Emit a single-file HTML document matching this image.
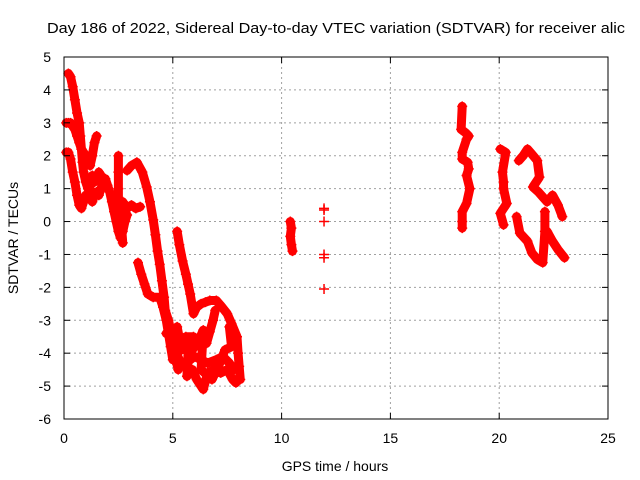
<!DOCTYPE html>
<html><head><meta charset="utf-8"><style>
body{margin:0;background:#fff;}
svg{display:block;font-family:"Liberation Sans",sans-serif;}
</style></head><body>
<svg id="chart" width="640" height="480" viewBox="0 0 640 480" xmlns="http://www.w3.org/2000/svg">
<rect width="640" height="480" fill="#fff"/>
<text x="47" y="33" font-size="15" textLength="578" lengthAdjust="spacingAndGlyphs" fill="#000">Day 186 of 2022, Sidereal Day-to-day VTEC variation (SDTVAR) for receiver alic</text>
<g id="grid"></g>
<g id="series"></g>
<g id="axes"></g>
<text x="335" y="471" font-size="14" text-anchor="middle">GPS time / hours</text>
<text transform="translate(18,238) rotate(-90)" font-size="14" text-anchor="middle">SDTVAR / TECUs</text>
</svg>
<script>
const xTicks=[0,5,10,15,20,25];
const yTicks=[-6,-5,-4,-3,-2,-1,0,1,2,3,4,5];
const trace1=[[0.2,4.5],[0.3,4.4],[0.4,4.1],[0.5,3.7],[0.6,3.3],[0.7,3.0],[0.75,2.6],[0.8,2.2],[0.85,1.8],[0.9,1.5],[1.0,1.2],[1.1,1.0],[1.2,1.0]];
const trace2=[[0.1,3.0],[0.2,3.0],[0.3,3.0],[0.4,2.9],[0.5,2.8],[0.6,2.6],[0.7,2.4],[0.8,2.2],[0.9,2.1],[1.0,2.0],[1.1,1.8],[1.2,1.7],[1.3,2.0],[1.4,2.4],[1.5,2.6]];
const trace3=[[0.1,2.1],[0.2,2.1],[0.3,1.9],[0.4,1.5],[0.5,1.2],[0.6,0.8],[0.7,0.5],[0.8,0.4],[0.9,0.6],[1.0,0.8],[1.1,0.8],[1.2,0.7],[1.3,0.6],[1.4,0.8],[1.5,0.9],[1.6,0.8],[1.7,1.0],[1.8,1.2],[1.9,1.3],[2.0,1.1],[2.1,0.9],[2.2,0.6],[2.3,0.3],[2.4,0.0],[2.5,-0.3],[2.6,-0.5],[2.7,-0.3],[2.8,0.0],[2.9,0.2]];
const trace4=[[1.3,1.4],[1.4,1.2],[1.5,1.3],[1.6,1.5],[1.7,1.4]];
const trace5=[[2.5,2.0],[2.5,1.5],[2.5,1.0],[2.5,0.6],[2.6,0.3],[2.65,-0.2],[2.7,-0.65]];
const trace6=[[2.5,0.55],[2.7,0.6],[2.9,0.4],[3.1,0.5],[3.3,0.4],[3.5,0.45]];
const trace7=[[2.9,1.55],[3.1,1.7],[3.35,1.8],[3.6,1.5],[3.8,1.05],[3.95,0.6],[4.1,0.05],[4.2,-0.4],[4.3,-0.9],[4.4,-1.3],[4.5,-1.8],[4.6,-2.3],[4.65,-2.7],[4.8,-3.0],[4.9,-3.3],[5.0,-3.7],[5.1,-4.1],[5.25,-4.5]];
const trace8=[[3.4,-1.25],[3.55,-1.6],[3.7,-1.9],[3.85,-2.2],[4.1,-2.3],[4.4,-2.3],[4.55,-2.6],[4.7,-3.0],[4.8,-3.4],[4.9,-3.8],[5.0,-4.2]];
const trace9=[[5.2,-0.3],[5.3,-0.7],[5.45,-1.2],[5.6,-1.6],[5.7,-1.9],[5.8,-2.2],[5.95,-2.8],[6.1,-2.6],[6.3,-2.5],[6.5,-2.45],[6.7,-2.4],[7.0,-2.4],[7.2,-2.55],[7.5,-2.8],[7.7,-3.1],[7.95,-3.5],[8.0,-4.0],[8.05,-4.4],[8.1,-4.8]];
const trace10=[[6.55,-3.7],[6.7,-3.35],[6.85,-3.0],[6.95,-2.7]];
const trace11=[[4.7,-3.4],[5.0,-3.5],[5.3,-3.6],[5.6,-3.5],[5.95,-3.5],[5.7,-4.0],[5.65,-4.7],[5.9,-4.5],[6.1,-4.8],[6.4,-5.1],[6.6,-4.6],[6.9,-4.5],[7.2,-4.6],[7.5,-4.5],[7.75,-4.8],[7.9,-4.9]];
const trace12=[[5.1,-3.9],[5.3,-4.2],[5.5,-4.4],[5.8,-4.2],[6.0,-4.1],[6.3,-4.2],[6.6,-4.3],[7.0,-4.2],[7.3,-4.1],[7.6,-4.3],[7.8,-4.5]];
const trace20=[[5.2,-3.2],[5.4,-3.9],[5.6,-3.7],[5.9,-3.9],[6.2,-3.6],[6.4,-3.3],[6.3,-4.5],[6.8,-4.8],[7.1,-4.4],[7.4,-3.9],[7.7,-3.8],[7.6,-3.2]];
const trace13=[[10.4,0.0],[10.45,-0.2],[10.4,-0.45],[10.45,-0.7],[10.5,-0.9]];
const trace14=[[11.95,0.4],[11.95,0.35],[11.95,0.0],[11.95,-1.0],[11.95,-1.1],[11.95,-2.05]];
const trace15=[[18.3,3.5],[18.25,2.8],[18.45,2.7],[18.6,2.6],[18.5,2.5],[18.3,2.1],[18.3,1.9],[18.55,1.8],[18.6,1.6],[18.5,1.4],[18.65,1.0],[18.5,0.55],[18.3,0.3],[18.3,0.0],[18.3,-0.2]];
const trace16=[[20.05,2.2],[20.3,2.1],[20.15,1.5],[20.2,1.2],[20.2,1.0],[20.35,0.55],[20.05,0.25],[20.2,-0.1]];
const trace17=[[20.9,1.85],[21.1,2.0],[21.3,2.2],[21.5,2.05],[21.75,1.85],[21.85,1.35],[21.55,1.05],[21.8,0.9],[22.0,0.75],[22.2,0.6],[22.45,0.8],[22.7,0.5],[22.9,0.15]];
const trace18=[[20.8,0.15],[20.95,-0.35],[21.3,-0.6],[21.5,-0.95],[21.75,-1.15],[22.0,-1.25],[22.1,-0.3],[22.1,0.3]];
const trace19=[[22.2,-0.3],[22.45,-0.6],[22.7,-0.85],[23.0,-1.1]];
const traces=[trace1,trace2,trace3,trace4,trace5,trace6,trace7,trace8,trace9,trace10,trace11,trace12,trace20,trace13,trace14,trace15,trace16,trace17,trace18,trace19];
const traceThick=[true,true,true,true,true,true,true,true,true,true,true,true,true,true,false,true,true,true,true,true];

const X0=64,X1=608,Y0=57,Y1=419;
const xs=t=>X0+(t-0)/(25-0)*(X1-X0);
const ys=v=>Y1-(v-(-6))/(5-(-6))*(Y1-Y0);
const NS="http://www.w3.org/2000/svg";
function mk(tag,attrs,parent){const e=document.createElementNS(NS,tag);for(const k in attrs)e.setAttribute(k,attrs[k]);parent.appendChild(e);return e;}
const grid=document.getElementById('grid'),axes=document.getElementById('axes'),ser=document.getElementById('series');
xTicks.forEach(t=>{
  const x=xs(t);
  if(t>0&&t<25){const g=mk('line',{x1:x,x2:x,y1:Y0,y2:Y1,stroke:'#a0a0a0','stroke-dasharray':'2,3','stroke-width':1},grid);
  
  }
  mk('line',{x1:x,x2:x,y1:Y1,y2:Y1-6,stroke:'#000'},axes);
  mk('line',{x1:x,x2:x,y1:Y0,y2:Y0+6,stroke:'#000'},axes);
  const l=mk('text',{x:x,y:443,'font-size':14,'text-anchor':'middle'},axes);l.textContent=t;
  
  
});
yTicks.forEach(v=>{
  const y=ys(v);
  if(v>-6&&v<5){const g=mk('line',{x1:X0,x2:X1,y1:y,y2:y,stroke:'#a0a0a0','stroke-dasharray':'2,3','stroke-width':1},grid);
  
  }
  mk('line',{x1:X0,x2:X0+6,y1:y,y2:y,stroke:'#000'},axes);
  mk('line',{x1:X1,x2:X1-6,y1:y,y2:y,stroke:'#000'},axes);
  const l=mk('text',{x:51,y:y+5,'font-size':14,'text-anchor':'end'},axes);l.textContent=v;
  
  
});
const frame=mk('rect',{x:X0,y:Y0,width:X1-X0,height:Y1-Y0,fill:'none',stroke:'#000','stroke-width':1},axes);


traces.forEach((tr,i)=>{
  if(traceThick[i]&&tr.length>1){
    const pl=mk('polyline',{points:tr.map(p=>xs(p[0])+','+ys(p[1])).join(' '),fill:'none',stroke:'#ff0000','stroke-width':9,'stroke-linejoin':'round','stroke-linecap':'round'},ser);
    
    
  }
  tr.forEach(p=>{
    const x=xs(p[0]),y=ys(p[1]);
    const m=mk('path',{d:`M${x-5},${y}H${x+5}M${x},${y-5}V${y+5}`,stroke:'#ff0000','stroke-width':1.5,fill:'none'},ser);
    
    
  });
});
</script>
</body></html>
